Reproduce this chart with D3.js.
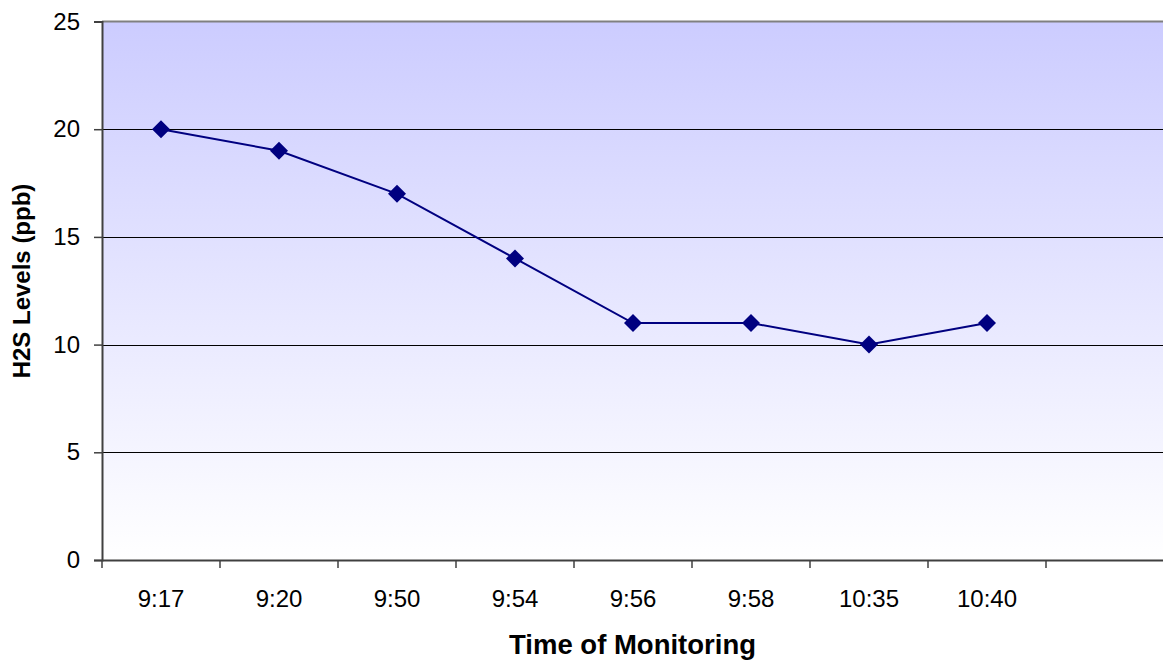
<!DOCTYPE html>
<html lang="en">
<head>
    <meta charset="UTF-8">
    <title>H2S Levels</title>
    <script src="https://d3js.org/d3.v7.min.js"></script>
    <style>
        body { margin: 0; background: #fff; }
        svg { display: block; font-family: Arial, "Liberation Sans", sans-serif; }
        .tick-label { font-size: 24px; fill: #000; }
        .axis-title { font-size: 24px; font-weight: bold; fill: #000; }
    </style>
</head>
<body>
<svg width="1163" height="663"></svg>
<script>
    // 数据
    const times = ["9:17", "9:20", "9:50", "9:54", "9:56", "9:58", "10:35", "10:40", ""];
    const levels = [20, 19, 17, 14, 11, 11, 10, 11];
    const yTicks = [0, 5, 10, 15, 20, 25];

    const width = 1163;
    const height = 663;
    const margin = { top: 21.5, right: 0, bottom: 103, left: 102 };

    const svg = d3.select("svg");

    const x = d3.scaleBand()
        .domain(times.map((d, i) => i))
        .range([margin.left, width + 1 - margin.right])
        .padding(0);

    const y = d3.scaleLinear()
        .domain([0, 25])
        .range([height - margin.bottom, margin.top]);

    // 背景渐变
    const grad = svg.append("defs").append("linearGradient")
        .attr("id", "bg").attr("x1", 0).attr("y1", 0).attr("x2", 0).attr("y2", 1);
    grad.append("stop").attr("offset", "0%").attr("stop-color", "#ccccff");
    grad.append("stop").attr("offset", "100%").attr("stop-color", "#ffffff");

    svg.append("rect")
        .attr("x", margin.left)
        .attr("y", y(25))
        .attr("width", width - margin.left)
        .attr("height", y(0) - y(25))
        .attr("fill", "url(#bg)");

    // 网格线
    svg.append("g")
        .selectAll("line")
        .data(yTicks.filter(d => d > 0 && d < 25))
        .join("line")
        .attr("x1", margin.left).attr("x2", width)
        .attr("y1", d => Math.round(y(d)) + 0.5).attr("y2", d => Math.round(y(d)) + 0.5)
        .attr("stroke", "#000").attr("stroke-width", 1);

    // 顶部边框
    svg.append("line")
        .attr("x1", margin.left).attr("x2", width)
        .attr("y1", y(25)).attr("y2", y(25))
        .attr("stroke", "#808080").attr("stroke-width", 2);

    // y 轴
    const yAxis = svg.append("g")
        .attr("transform", `translate(${margin.left},0)`)
        .call(d3.axisLeft(y).tickValues(yTicks).tickSize(8).tickPadding(14));
    yAxis.select(".domain").attr("stroke", "#404040").attr("stroke-width", 2);
    yAxis.selectAll(".tick line").attr("stroke", "#404040").attr("stroke-width", 1.5);
    yAxis.selectAll(".tick text").attr("class", "tick-label").attr("font-size", null).attr("font-family", null);

    // x 轴
    const xAxis = svg.append("g")
        .attr("transform", `translate(0,${y(0)})`)
        .call(d3.axisBottom(x).tickFormat(i => times[i]).tickSize(0).tickPadding(30));
    xAxis.select(".domain").attr("stroke", "#404040").attr("stroke-width", 2);
    xAxis.selectAll(".tick text").attr("class", "tick-label").attr("font-size", null).attr("font-family", null);

    // x 轴分隔刻度
    svg.append("g")
        .selectAll("line")
        .data(times.map((d, i) => i))
        .join("line")
        .attr("x1", i => x(i)).attr("x2", i => x(i))
        .attr("y1", y(0)).attr("y2", y(0) + 8)
        .attr("stroke", "#404040").attr("stroke-width", 1.5);

    // 折线
    const line = d3.line()
        .x((d, i) => x(i) + x.bandwidth() / 2)
        .y(d => y(d));

    svg.append("path")
        .datum(levels)
        .attr("fill", "none")
        .attr("stroke", "#000080")
        .attr("stroke-width", 2)
        .attr("d", line);

    // 菱形标记
    svg.append("g")
        .selectAll("path")
        .data(levels)
        .join("path")
        .attr("d", d3.symbol().type(d3.symbolSquare).size(162))
        .attr("transform", (d, i) => `translate(${x(i) + x.bandwidth() / 2},${y(d)}) rotate(45)`)
        .attr("fill", "#000080");

    // 轴标题
    svg.append("text")
        .attr("class", "axis-title")
        .attr("x", (margin.left + width) / 2)
        .attr("y", 654)
        .style("font-size", "27.5px")
        .attr("text-anchor", "middle")
        .text("Time of Monitoring");

    svg.append("text")
        .attr("class", "axis-title")
        .attr("transform", `translate(30,281) rotate(-90)`)
        .attr("text-anchor", "middle")
        .text("H2S Levels (ppb)");
</script>
</body>
</html>
